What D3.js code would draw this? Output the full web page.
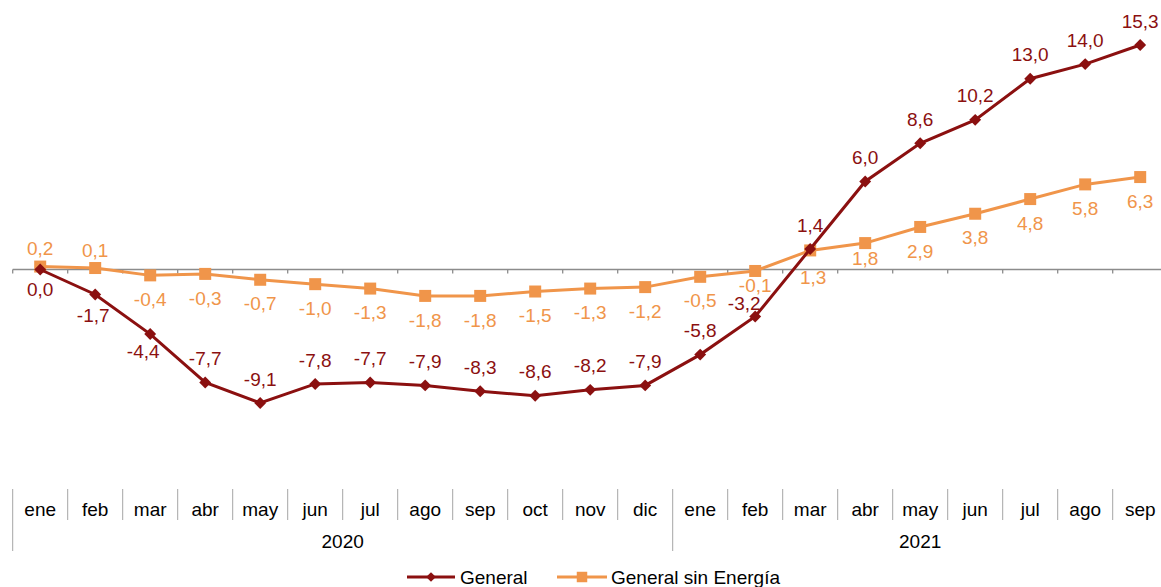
<!DOCTYPE html>
<html>
<head>
<meta charset="utf-8">
<script src="https://cdn.jsdelivr.net/npm/d3@7"></script>
<style>
  body { margin: 0; background: #fff; }
  svg { display: block; font-family: "Liberation Sans", Arial, sans-serif; }
</style>
</head>
<body>
<div id="chart"></div>
<script>
// Data
const months = ["ene","feb","mar","abr","may","jun","jul","ago","sep","oct","nov","dic",
                "ene","feb","mar","abr","may","jun","jul","ago","sep"];
const years = ["2020", "2021"];
const yearMonths = [12, 9];
const general = [0.0, -1.7, -4.4, -7.7, -9.1, -7.8, -7.7, -7.9, -8.3, -8.6, -8.2, -7.9,
                 -5.8, -3.2, 1.4, 6.0, 8.6, 10.2, 13.0, 14.0, 15.3];
const sinEnergia = [0.2, 0.1, -0.4, -0.3, -0.7, -1.0, -1.3, -1.8, -1.8, -1.5, -1.3, -1.2,
                    -0.5, -0.1, 1.3, 1.8, 2.9, 3.8, 4.8, 5.8, 6.3];
const seriesNames = ["General", "General sin Energía"];

(function(){
    const W = 1161, H = 587;
    const bandW = 55;
    const x0 = 12.7;
    const red = "#8b1010";
    const orange = "#f0954a";
    const fs = "19px";

    const svg = d3.select("#chart").append("svg")
        .attr("width", W)
        .attr("height", H);

    const x = d3.scaleBand()
        .domain(d3.range(months.length))
        .range([x0, x0 + bandW * months.length])
        .paddingInner(0).paddingOuter(0);

    const y = d3.scaleLinear()
        .domain([0, 15.3])
        .range([269.5, 45]);

    const cx = i => x(i) + x.bandwidth() / 2;

    // zero line with small ticks
    svg.append("line")
        .attr("x1", x0).attr("x2", W)
        .attr("y1", y(0)).attr("y2", y(0))
        .style("stroke", "#8c8c8c").style("stroke-width", 1.3);
    svg.selectAll(".ztick")
        .data(d3.range(months.length + 1))
        .enter().append("line")
        .attr("x1", i => x0 + i * bandW).attr("x2", i => x0 + i * bandW)
        .attr("y1", y(0)).attr("y2", y(0) + 4)
        .style("stroke", "#8c8c8c").style("stroke-width", 1.3);

    // category axis at bottom
    const axisTop = 489, monthBottom = 520, yearBottom = 551;
    const yearStarts = [0, yearMonths[0]];
    svg.selectAll(".sep")
        .data(d3.range(months.length))
        .enter().append("line")
        .attr("x1", i => x(i)).attr("x2", i => x(i))
        .attr("y1", axisTop)
        .attr("y2", i => yearStarts.includes(i) ? yearBottom : monthBottom)
        .style("stroke", "#a6a6a6").style("stroke-width", 1);

    svg.selectAll(".mlabel")
        .data(months)
        .enter().append("text")
        .attr("x", (d, i) => cx(i))
        .attr("y", 509)
        .attr("dy", "0.35em")
        .attr("text-anchor", "middle")
        .style("font-size", fs)
        .style("fill", "#000")
        .text(d => d);

    svg.selectAll(".ylabel")
        .data(years)
        .enter().append("text")
        .attr("x", (d, i) => {
            const s = yearStarts[i], n = yearMonths[i];
            return (x(s) + x(s + n - 1) + x.bandwidth()) / 2;
        })
        .attr("y", 541)
        .attr("dy", "0.35em")
        .attr("text-anchor", "middle")
        .style("font-size", fs)
        .style("fill", "#000")
        .text(d => d);

    const line = d3.line()
        .x((d, i) => cx(i))
        .y(d => y(d));

    const fmt = v => d3.format(".1f")(v).replace(".", ",").replace("−", "-");

    // orange series
    svg.append("path")
        .datum(sinEnergia)
        .attr("d", line)
        .style("fill", "none").style("stroke", orange).style("stroke-width", 3);
    svg.selectAll(".sq")
        .data(sinEnergia)
        .enter().append("rect")
        .attr("x", (d, i) => cx(i) - 6).attr("y", d => y(d) - 6)
        .attr("width", 12).attr("height", 12)
        .style("fill", orange);

    // red series
    svg.append("path")
        .datum(general)
        .attr("d", line)
        .style("fill", "none").style("stroke", red).style("stroke-width", 3);
    const diamond = d3.symbol().type(d3.symbolDiamond2).size(90);
    svg.selectAll(".dm")
        .data(general)
        .enter().append("path")
        .attr("d", diamond)
        .attr("transform", (d, i) => `translate(${cx(i)},${y(d)})`)
        .style("fill", red);

    // labels (offset of the label centre from its point)
    const orangeDy = i => i < 2 ? -18 : ({13: 14, 14: 27, 15: 15})[i] || 24;
    const redDy = i => ({0: 20, 1: 21, 2: 17, 13: -13})[i] || -24;
    const redDx = i => ({1: -2, 2: -7, 13: -11})[i] || 0;

    svg.selectAll(".lo")
        .data(sinEnergia)
        .enter().append("text")
        .attr("x", (d, i) => cx(i) + (i === 14 ? 3 : 0))
        .attr("y", (d, i) => y(d) + orangeDy(i))
        .attr("dy", "0.35em")
        .attr("text-anchor", "middle")
        .style("font-size", fs)
        .style("fill", orange)
        .text(fmt);

    svg.selectAll(".lr")
        .data(general)
        .enter().append("text")
        .attr("x", (d, i) => cx(i) + redDx(i))
        .attr("y", (d, i) => y(d) + redDy(i))
        .attr("dy", "0.35em")
        .attr("text-anchor", "middle")
        .style("font-size", fs)
        .style("fill", red)
        .text(fmt);

    // legend
    const legend = [
        { name: seriesNames[0], color: red, x1: 407, x2: 455, tx: 460, shape: "d" },
        { name: seriesNames[1], color: orange, x1: 557, x2: 607, tx: 611, shape: "s" }
    ];
    const ly = 577;
    const lg = svg.selectAll(".lg").data(legend).enter().append("g");
    lg.append("line")
        .attr("x1", d => d.x1).attr("x2", d => d.x2)
        .attr("y1", ly).attr("y2", ly)
        .style("stroke", d => d.color).style("stroke-width", 3);
    lg.append("path")
        .attr("d", d => d.shape === "d"
            ? d3.symbol().type(d3.symbolDiamond2).size(60)()
            : d3.symbol().type(d3.symbolSquare).size(110)())
        .attr("transform", d => `translate(${(d.x1 + d.x2) / 2},${ly})`)
        .style("fill", d => d.color);
    lg.append("text")
        .attr("x", d => d.tx).attr("y", ly)
        .attr("dy", "0.35em")
        .style("font-size", fs)
        .style("fill", "#000")
        .text(d => d.name);
})();
</script>
</body>
</html>
